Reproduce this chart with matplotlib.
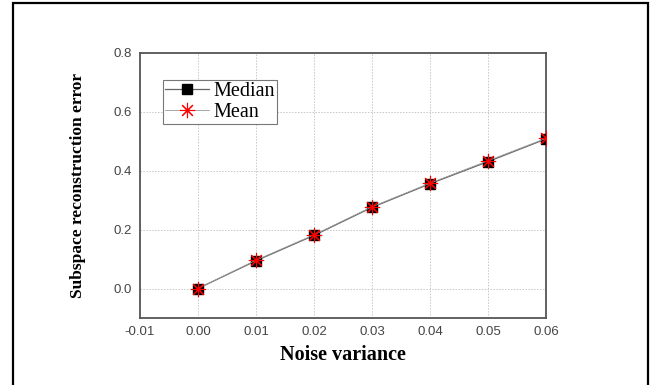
import matplotlib
matplotlib.use("Agg")
import matplotlib.pyplot as plt
from matplotlib.patches import Rectangle

# noise variance levels and reconstruction errors
noise_var = [0.00, 0.01, 0.02, 0.03, 0.04, 0.05, 0.06]
median_err = [0.000, 0.094, 0.180, 0.275, 0.355, 0.430, 0.507]
mean_err = [0.000, 0.096, 0.182, 0.277, 0.357, 0.433, 0.509]

x_ticks = [-0.01, 0.00, 0.01, 0.02, 0.03, 0.04, 0.05, 0.06]
y_ticks = [0.0, 0.2, 0.4, 0.6, 0.8]

fig = plt.figure(figsize=(6.55, 3.85), dpi=100)
ax = fig.add_axes([140 / 655, 1 - 318 / 385, 406 / 655, 265.5 / 385])

ax.plot(noise_var, median_err, color="#666666", lw=0.9, marker="s", ms=7,
        mfc="black", mec="black", label="Median", zorder=3)
ax.plot(noise_var, mean_err, color="#999999", lw=0.6, marker=(8, 2, 0), ms=11,
        mec="red", mew=0.8, label="Mean", zorder=4)

ax.set_xlim(-0.01, 0.06)
ax.set_ylim(-0.1, 0.8)
ax.set_xticks(x_ticks)
ax.set_xticklabels([f"{t:.2f}" for t in x_ticks])
ax.set_yticks(y_ticks)
ax.set_yticklabels([f"{t:.1f}" for t in y_ticks])
ax.tick_params(length=0, labelsize=9.5, labelcolor="#444444", pad=6,
               labelfontfamily="Liberation Sans")
ax.grid(True, ls=(0, (1.5, 1.5)), color="#c8c8c8", lw=0.7)
ax.set_axisbelow(True)
for sp in ax.spines.values():
    sp.set_color("#555555")
    sp.set_linewidth(1.3)

ax.set_xlabel("Noise variance", fontsize=14.5, fontweight="bold",
              family="Liberation Serif", labelpad=5)
ax.set_ylabel("Subspace reconstruction error", fontsize=12.5, fontweight="bold",
              family="Liberation Serif", labelpad=20)

leg = ax.legend(loc="upper left", bbox_to_anchor=(0.057, 0.897),
                prop={"family": "Liberation Serif", "size": 14.5},
                fancybox=False, edgecolor="#777777", framealpha=1,
                handlelength=2.2, handletextpad=0.2, borderpad=0.1,
                labelspacing=0.12, borderaxespad=0)
leg.get_frame().set_linewidth(0.8)

# page frame around the figure
fig.patches.append(Rectangle((12.5 / 655, -0.05), (648 - 12.5) / 655, 1.05 - 2.5 / 385,
                             transform=fig.transFigure, fill=False,
                             edgecolor="black", lw=1.6))

fig.savefig("out.png", dpi=100)
